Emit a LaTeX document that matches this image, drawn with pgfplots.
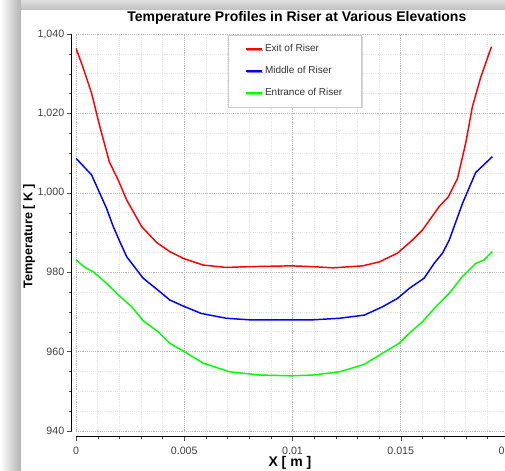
\documentclass[border=0pt]{standalone}
\usepackage{fontspec}
\setmainfont{Liberation Sans}
\usepackage{pgfplots}
\pgfplotsset{compat=1.18}
\usetikzlibrary{shadows}

\begin{document}
\begin{tikzpicture}
% window shadow of the screenshot
\shade[left color=white, right color=gray!60] (-57pt,-29.25pt) rectangle (-41.25pt,323.25pt);
\shade[top color=gray!25, bottom color=gray!50] (-41.25pt,315.75pt) rectangle (321.75pt,323.25pt);
\begin{axis}[
    scale only axis,
    width=324.75pt, height=297.75pt,
    xmin=0, xmax=0.02, ymin=940, ymax=1040,
    xtick={0,0.005,0.01,0.015,0.02},
    ytick={940,960,980,1000,1020,1040},
    minor x tick num=4, minor y tick num=3,
    grid=both,
    major grid style={densely dotted, gray!55},
    minor grid style={densely dotted, gray!22},
    axis x line*=bottom, axis y line*=left,
    axis line style={-, black, line width=0.75pt},
    x axis line style={yshift=-3.75pt},
    y axis line style={xshift=-3pt},
    tick align=outside,
    major tick length=3.75pt, minor tick length=2.5pt,
    xtick style={yshift=-3.75pt, black!70},
    ytick style={xshift=-3pt, black!70},
    scaled x ticks=false,
    /pgf/number format/assume math mode=true,
    xticklabel style={/pgf/number format/fixed, /pgf/number format/precision=3, yshift=-4.5pt},
    yticklabel style={/pgf/number format/1000 sep={,}, xshift=-1.5pt},
    ticklabel style={font=\fontsize{8}{9}\selectfont, text=black!75},
    title={Temperature Profiles in Riser at Various Elevations},
    title style={font=\bfseries\fontsize{10.5}{12}\selectfont, at={(axis description cs:0.51,1.0101)}, anchor=base},
    xlabel={X [ m ]},
    xlabel style={font=\bfseries\fontsize{10.5}{12}\selectfont, at={(axis description cs:0.494,-0.0882)}, anchor=base},
    ylabel={Temperature [ K ]},
    ylabel style={font=\bfseries\fontsize{9.5}{11}\selectfont, at={(axis description cs:-0.1085,0.49)}, anchor=center},
    legend style={at={(axis description cs:0.351,0.9975)}, anchor=north west,
        draw=gray!40, fill=white, font=\fontsize{7.5}{8.5}\selectfont, text=black!80,
        inner xsep=12.5pt, inner ysep=5pt, row sep=5.5pt,
        drop shadow={shadow xshift=1pt, shadow yshift=-1pt, fill=gray!60}},
    legend cell align=left,
    legend image code/.code={\draw[#1] (0pt,0pt) -- (12pt,0pt);},
]

\addplot[color=red, line width=1.1pt] coordinates {
(0,1036.4) (0.00031,1031.8) (0.00072,1025.1) (0.0011,1016.7) (0.00154,1007.8)
(0.00195,1003.2) (0.00234,998.2) (0.00303,991.5) (0.00372,987.5) (0.00433,985.2)
(0.00494,983.5) (0.00587,981.8) (0.00694,981.2) (0.00802,981.4) (0.00994,981.6)
(0.01094,981.4) (0.01186,981.1) (0.01324,981.6) (0.01401,982.6) (0.01485,984.8)
(0.01554,988.1) (0.016,990.6) (0.01677,996.5) (0.0172,999.0) (0.01762,1003.6)
(0.018,1012.5) (0.01831,1021.7) (0.0187,1029.2) (0.01919,1036.8)};
\addlegendentry{Exit of Riser}

\addplot[color=blue, line width=1.1pt] coordinates {
(0,1008.7) (0.00072,1004.5) (0.00141,996.1) (0.00172,991.5) (0.002,988.0)
(0.00234,983.9) (0.0031,978.5) (0.00387,975.1) (0.00433,973.0) (0.00494,971.5)
(0.00579,969.6) (0.00694,968.4) (0.00802,968.0) (0.01094,968.0) (0.01217,968.4)
(0.01332,969.2) (0.01416,971.3) (0.01485,973.4) (0.01539,975.9) (0.01608,978.5)
(0.01654,982.2) (0.01693,984.8) (0.01724,988.1) (0.01785,997.3) (0.01846,1005.1)
(0.01923,1009.1)};
\addlegendentry{Middle of Riser}

\addplot[color=green, line width=1.1pt] coordinates {
(0,983.1) (0.00041,981.2) (0.0008,980.1) (0.00141,977.2) (0.00195,974.3)
(0.00257,971.3) (0.0031,967.8) (0.00379,965.0) (0.00433,962.1) (0.00494,960.2)
(0.00587,957.1) (0.0071,954.9) (0.00848,954.1) (0.00994,953.9) (0.01094,954.1)
(0.01217,954.9) (0.01332,956.8) (0.01416,959.6) (0.01493,962.1) (0.01539,964.6)
(0.016,967.5) (0.01662,971.3) (0.01724,974.7) (0.01785,978.9) (0.01846,982.2)
(0.01885,983.1) (0.01923,985.2)};
\addlegendentry{Entrance of Riser}

\end{axis}
\pgfresetboundingbox
\path[use as bounding box] (-57pt,-29.25pt) rectangle (321.75pt,323.25pt);
\end{tikzpicture}
\end{document}
